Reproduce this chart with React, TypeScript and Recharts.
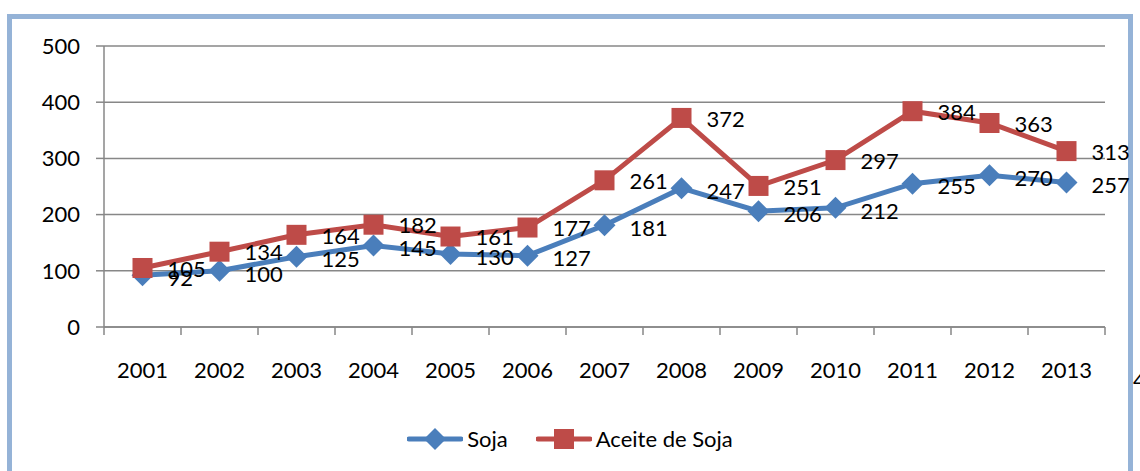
import React from 'react'
import { LineChart, Line, XAxis, YAxis, CartesianGrid, Legend, LabelList } from 'recharts'

const years = ['2001', '2002', '2003', '2004', '2005', '2006', '2007', '2008', '2009', '2010', '2011', '2012', '2013']
const soja = [92, 100, 125, 145, 130, 127, 181, 247, 206, 212, 255, 270, 257]
const aceite = [105, 134, 164, 182, 161, 177, 261, 372, 251, 297, 384, 363, 313]
const yTicks = [0, 100, 200, 300, 400, 500]

const data = years.map((year, i) => ({ year, soja: soja[i], aceite: aceite[i] }))

const FONT = 'Lato, "Open Sans", sans-serif'
const BLUE = '#4A7EBB'
const RED = '#BE4B48'
const AXIS = '#878787'
const FRAME = '#95B3D7'

const W = 1140
const H = 471
const MARGIN = { top: 46, right: 35, left: 44, bottom: 94 }
const X_AXIS_H = 50
const PLOT_BOTTOM = H - MARGIN.bottom - X_AXIS_H
const BAND = (W - MARGIN.left - 60 - MARGIN.right) / years.length

const YearTick = (props: any) => {
  const { x, payload, index } = props
  const left = x - BAND / 2
  return (
    <g>
      <line x1={left} x2={left} y1={PLOT_BOTTOM} y2={PLOT_BOTTOM + 8} stroke={AXIS} strokeWidth={1.5} />
      {index === years.length - 1 && (
        <line x1={x + BAND / 2} x2={x + BAND / 2} y1={PLOT_BOTTOM} y2={PLOT_BOTTOM + 8} stroke={AXIS} strokeWidth={1.5} />
      )}
      <text x={x} y={PLOT_BOTTOM + 43} dy="0.35em" textAnchor="middle" fontSize={22} fontFamily={FONT} fill="#000">
        {payload.value}
      </text>
    </g>
  )
}

const Diamond = (props: any) => {
  const { cx, cy } = props
  if (cx == null || cy == null) return null
  return <path d={`M${cx},${cy - 11} L${cx + 11},${cy} L${cx},${cy + 11} L${cx - 11},${cy} Z`} fill={BLUE} />
}

const Square = (props: any) => {
  const { cx, cy } = props
  if (cx == null || cy == null) return null
  return <rect x={cx - 10} y={cy - 10} width={20} height={20} fill={RED} />
}

const valueLabel = (dy: number) => (p: any) => {
  const x = p.x ?? p.viewBox?.x
  const y = p.y ?? p.viewBox?.y
  return (
    <text x={x + 25} y={y + dy} dy="0.35em" fontSize={22} fontFamily={FONT} fill="#000">
      {p.value}
    </text>
  )
}

const LegendContent = () => (
  <div style={{ display: 'flex', justifyContent: 'center', alignItems: 'center', fontFamily: FONT, fontSize: 22 }}>
    <svg width={56} height={24}>
      <line x1={2} x2={54} y1={12} y2={12} stroke={BLUE} strokeWidth={5} strokeLinecap="round" />
      <path d="M28,1 L39,12 L28,23 L17,12 Z" fill={BLUE} />
    </svg>
    <span style={{ marginLeft: 4, marginRight: 28 }}>Soja</span>
    <svg width={56} height={24}>
      <line x1={2} x2={54} y1={12} y2={12} stroke={RED} strokeWidth={5} strokeLinecap="round" />
      <rect x={18} y={2} width={20} height={20} fill={RED} />
    </svg>
    <span style={{ marginLeft: 4 }}>Aceite de Soja</span>
  </div>
)

export default function App() {
  return (
    <div style={{ position: 'absolute', left: 0, top: 0, width: W, height: H, overflow: 'hidden', background: '#fff' }}>
      <div
        style={{
          position: 'absolute',
          left: 7,
          top: 14,
          width: 1126,
          height: 500,
          boxSizing: 'border-box',
          border: `5px solid ${FRAME}`,
          borderBottom: 'none',
        }}
      />
      <span style={{ position: 'absolute', left: 1133, top: 366, fontFamily: FONT, fontSize: 22, color: '#000' }}>4</span>
      <div style={{ position: 'absolute', left: 0, top: 0 }}>
        <LineChart width={W} height={H} data={data} margin={MARGIN}>
          <CartesianGrid vertical={false} stroke={AXIS} strokeWidth={1.5} />
          <XAxis
            dataKey="year"
            scale="band"
            interval={0}
            height={X_AXIS_H}
            tickLine={false}
            axisLine={{ stroke: AXIS, strokeWidth: 1.5 }}
            tick={<YearTick />}
          />
          <YAxis
            width={60}
            domain={[0, 500]}
            ticks={yTicks}
            tickSize={8}
            tickMargin={16}
            tickLine={{ stroke: AXIS, strokeWidth: 1.5 }}
            axisLine={{ stroke: AXIS, strokeWidth: 1.5 }}
            tick={{ fontSize: 22, fontFamily: FONT, fill: '#000' }}
          />
          <Legend verticalAlign="middle" wrapperStyle={{ top: 425, left: 0, width: W }} content={<LegendContent />} />
          <Line
            type="linear"
            dataKey="soja"
            name="Soja"
            stroke={BLUE}
            strokeWidth={5}
            dot={<Diamond />}
            activeDot={false}
            isAnimationActive={false}
          >
            <LabelList dataKey="soja" content={valueLabel(3)} />
          </Line>
          <Line
            type="linear"
            dataKey="aceite"
            name="Aceite de Soja"
            stroke={RED}
            strokeWidth={5}
            dot={<Square />}
            activeDot={false}
            isAnimationActive={false}
          >
            <LabelList dataKey="aceite" content={valueLabel(1)} />
          </Line>
        </LineChart>
      </div>
    </div>
  )
}
